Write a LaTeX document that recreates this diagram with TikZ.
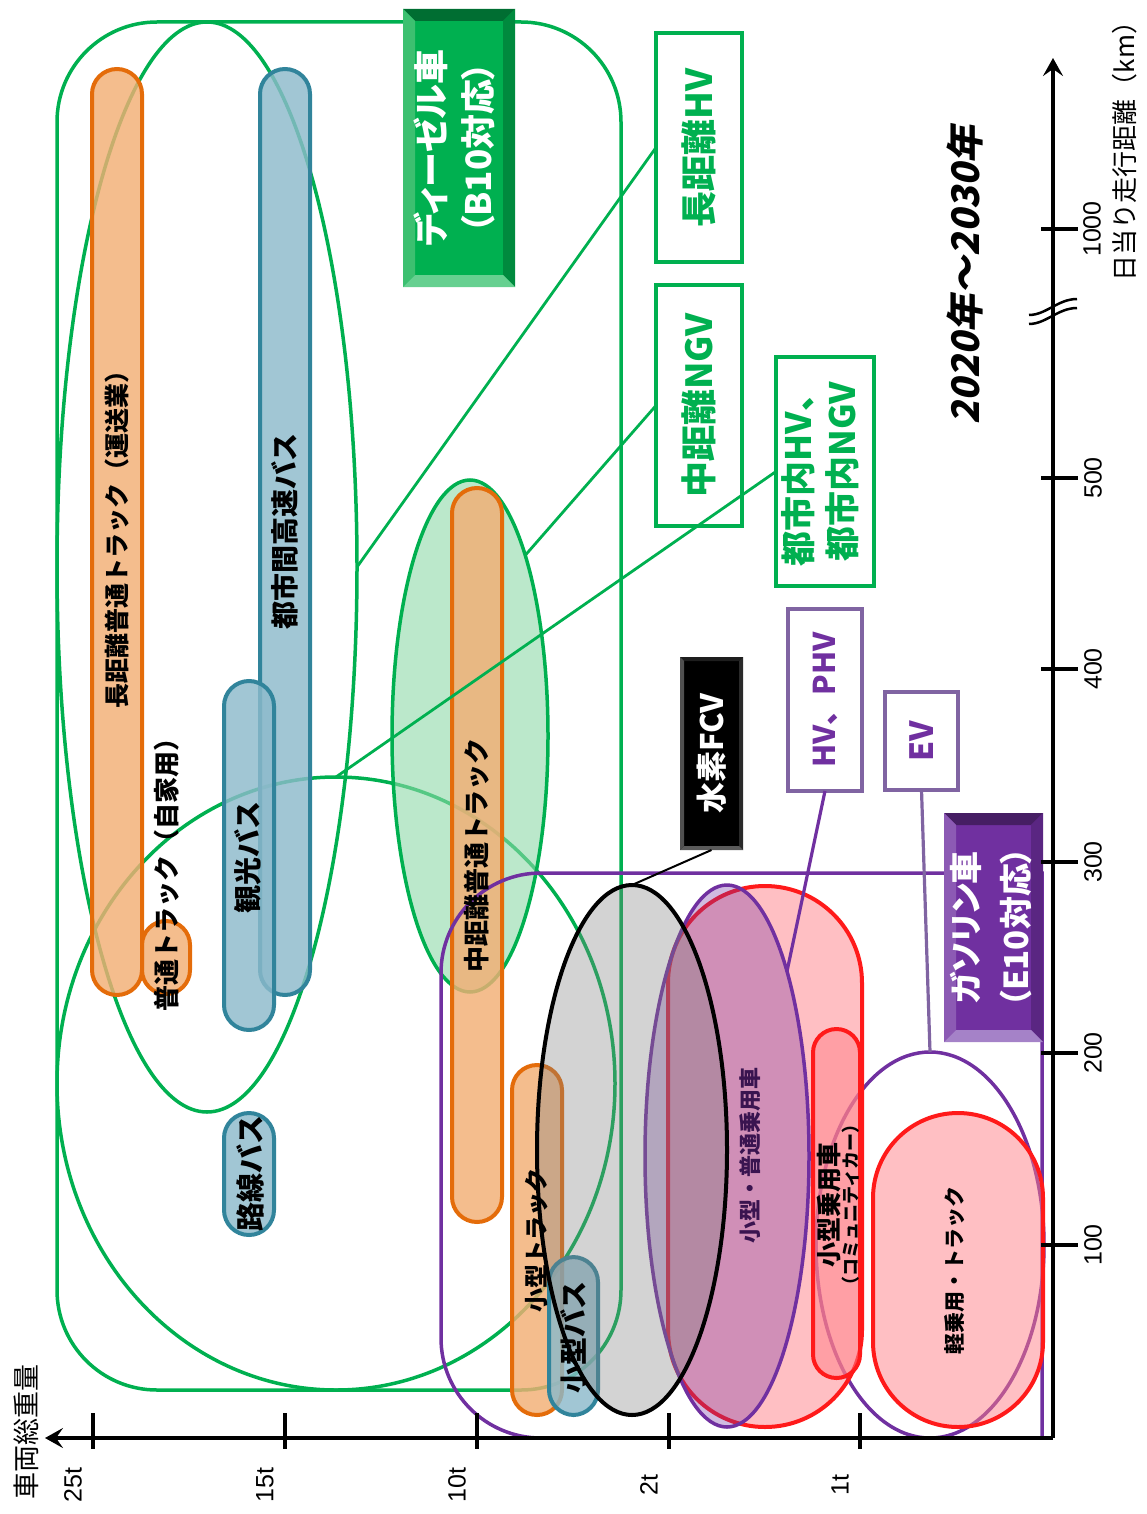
\documentclass[tikz,border=0pt]{standalone}
\usepackage{fontspec}
\setmainfont{Liberation Sans}
\newfontfamily\jp{Noto Sans CJK JP}
\newfontfamily\jpp[RawFeature=+palt]{Noto Sans CJK JP}
\newfontfamily\jpsl[FakeSlant=0.2]{Noto Sans CJK JP}
\usetikzlibrary{shapes.geometric,arrows.meta}

\definecolor{grn}{HTML}{00B050}
\definecolor{grnL}{HTML}{8ED9A8}
\definecolor{orgD}{HTML}{E46C0A}
\definecolor{orgL}{HTML}{F2AE74}
\definecolor{bluD}{HTML}{31849B}
\definecolor{bluL}{HTML}{8CBACB}
\definecolor{redD}{HTML}{FF1A1A}
\definecolor{redL}{HTML}{FF7F88}
\definecolor{pur}{HTML}{7030A0}
\definecolor{purL}{HTML}{8064A2}
\definecolor{carTxt}{HTML}{3A1450}
% bevelled label boxes
\definecolor{dslM}{HTML}{00B050}
\definecolor{dslT}{HTML}{006E32}
\definecolor{dslLf}{HTML}{3CC070}
\definecolor{dslR}{HTML}{008A3E}
\definecolor{dslB}{HTML}{66D090}
\definecolor{gasM}{HTML}{7030A0}
\definecolor{gasT}{HTML}{461E64}
\definecolor{gasLf}{HTML}{8C5AB4}
\definecolor{gasR}{HTML}{5A2682}
\definecolor{gasB}{HTML}{A582C8}
\definecolor{fcvT}{HTML}{1E1E1E}
\definecolor{fcvLf}{HTML}{505050}
\definecolor{fcvR}{HTML}{2A2A2A}
\definecolor{fcvB}{HTML}{5A5A5A}

\newcommand\fsz[2]{\fontsize{#1}{#2}\selectfont}
% node, bevel width, top, left, right, bottom colours
\newcommand\boxbevel[6]{%
  \fill[#3] (#1.north west) -- (#1.north east) -- ([shift={(-#2,#2)}]#1.north east) -- ([shift={(#2,#2)}]#1.north west) -- cycle;
  \fill[#4] (#1.north west) -- ([shift={(#2,#2)}]#1.north west) -- ([shift={(#2,-#2)}]#1.south west) -- (#1.south west) -- cycle;
  \fill[#5] (#1.north east) -- ([shift={(-#2,#2)}]#1.north east) -- ([shift={(-#2,-#2)}]#1.south east) -- (#1.south east) -- cycle;
  \fill[#6] (#1.south west) -- ([shift={(#2,-#2)}]#1.south west) -- ([shift={(-#2,-#2)}]#1.south east) -- (#1.south east) -- cycle;}

\begin{document}
\begin{tikzpicture}[x=1pt,y=-1pt,
  gline/.style={draw=grn, line width=3.5pt},
  capO/.style={draw=orgD, fill=orgL, fill opacity=.82, line width=4pt, rounded corners=25pt},
  capB/.style={draw=bluD, fill=bluL, fill opacity=.82, line width=4pt, rounded corners=25pt},
  capR/.style={draw=redD, fill=redL, fill opacity=.5, line width=4pt},
  ell/.style={ellipse, inner sep=0, outer sep=0},
  lbl/.style={rotate=90, inner sep=0, font=\jp\bfseries},
  gbox/.style={draw=grn, fill=white, line width=3.5pt, inner sep=0, outer sep=0, text=grn},
  pbox/.style={draw=purL, fill=white, line width=3.5pt, inner sep=0, outer sep=0, text=pur},
  bvbox/.style={inner sep=0, outer sep=0},
  gcon/.style={draw=grn, line width=2.8pt},
  axis/.style={line width=3.8pt},
  tickmark/.style={line width=4.5pt},
  num/.style={rotate=90, inner sep=0, font=\fsz{25}{30}},
]
\useasboundingbox (0,0) rectangle (1147,1514);

% ---- diesel domain: frame and two usage ellipses
\draw[gline, rounded corners=100pt] (57,22) rectangle (621,1390);
\node[ell, gline, minimum width=300pt, minimum height=1090pt] (ellLong) at (207,567) {};
\node[ell, gline, minimum width=558pt, minimum height=613pt] (ellLow) at (336,1083.5) {};
\node[ell, draw=grn, fill=grnL, fill opacity=.6, line width=3.5pt, minimum width=156pt, minimum height=512pt] (ellMid) at (470,736) {};

% ---- trucks
\draw[capO] (92,69) rectangle (142,995);
\draw[capO, rounded corners=24pt] (142,921) rectangle (190,994);
\draw[capO] (452,488) rectangle (502,1222);
\draw[capO] (512,1065) rectangle (562,1415);
% ---- buses
\draw[capB] (260,69) rectangle (310,995);
\draw[capB] (224,681) rectangle (274,1030);
\draw[capB] (224,1113) rectangle (274,1235);
\draw[capB] (549,1257) rectangle (598,1415);

% ---- gasoline domain
\draw[draw=pur, line width=3.5pt] (1042,1438) -- (1042,873) -- (541,873)
  arc(-90:-180:100) -- (441,1338) arc(180:90:100) -- cycle;
\node[ell, draw=pur, line width=3.5pt, minimum width=228pt, minimum height=386pt] (ellEV) at (930,1245) {};
\draw[capR, rounded corners=97pt] (668,886) rectangle (862,1427);
\draw[capR, rounded corners=23.5pt] (813,1029) rectangle (860,1378);
\draw[capR, rounded corners=85pt] (873,1113) rectangle (1043,1427);
\node[ell, draw=pur, fill=pur, fill opacity=.33, line width=3.5pt, minimum width=164pt, minimum height=542pt] (ellCar) at (727,1156) {};
\node[ell, draw=black, fill=gray, fill opacity=.35, line width=4pt, minimum width=190pt, minimum height=530pt] (ellFCV) at (632,1150) {};

% ---- labels inside the bars
\node[lbl, font=\jp\bfseries\fsz{25}{30}] (tLongTr) at (117,533) {長距離普通トラック（運送業）};
\node[lbl, font=\jp\bfseries\fsz{28}{32}] (tExpBus) at (285,531) {都市間高速バス};
\node[lbl, font=\jp\bfseries\fsz{26}{30}] (tOwnTr) at (167,868) {普通トラック（自家用）};
\node[lbl, font=\jp\bfseries\fsz{28}{32}] (tTour) at (248,857) {観光バス};
\node[lbl, font=\jp\bfseries\fsz{29}{32}] (tRoute) at (250,1173) {路線バス};
\node[lbl, font=\jp\bfseries\fsz{26}{30}] (tMidTr) at (477,855) {中距離普通トラック};
\node[lbl, font=\jp\bfseries\fsz{24}{28}] (tSmTr) at (537,1240) {小型トラック};
\node[lbl, font=\jp\bfseries\fsz{28}{32}] (tSmBus) at (574,1337) {小型バス};
\node[lbl, font=\jp\bfseries\fsz{22}{26}, text=carTxt] (tCar) at (750,1155) {小型・普通乗用車};
\node[lbl, align=center] (tComm) at (838,1205)
  {{\fsz{25}{29}小型乗用車}\\{\fsz{18}{29}\jp\bfseries（コミュニティカー）}};
\node[lbl, font=\jp\bfseries\fsz{21}{26}] (tKei) at (955,1270) {軽乗用・トラック};

% ---- technology boxes
\node[gbox, minimum width=86pt, minimum height=229pt, font=\jp\bfseries\fsz{36}{40}] (bHV) at (699,147.5)
  {\rotatebox{90}{長距離HV}};
\node[gbox, minimum width=86pt, minimum height=241pt, font=\jp\bfseries\fsz{36}{40}] (bNGV) at (699,405.5)
  {\rotatebox{90}{中距離NGV}};
\node[gbox, minimum width=98pt, minimum height=229pt, font=\jp\bfseries\fsz{35}{44}] (bCity) at (825,471.5)
  {\rotatebox{90}{\begin{tabular}{@{}c@{}}都市内HV、\\都市内NGV\end{tabular}}};
\node[pbox, minimum width=74pt, minimum height=182pt, font=\jp\bfseries\fsz{30}{34}] (bHVP) at (825,700)
  {\rotatebox{90}{HV、PHV}};
\node[pbox, minimum width=73pt, minimum height=98pt, font=\jp\bfseries\fsz{32}{36}] (bEV) at (921.5,741)
  {\rotatebox{90}{EV}};

\node[bvbox, fill=black, minimum width=63pt, minimum height=193pt] (bFCV) at (711.5,753.5) {};
\boxbevel{bFCV}{4}{fcvT}{fcvLf}{fcvR}{fcvB}
\node[text=white, inner sep=0, font=\jp\bfseries\fsz{31}{34}] (tFCV) at (bFCV) {\rotatebox{90}{水素FCV}};

\node[bvbox, fill=dslM, minimum width=112pt, minimum height=278pt] (bDsl) at (459,148) {};
\boxbevel{bDsl}{12}{dslT}{dslLf}{dslR}{dslB}
\node[text=white, inner sep=0, font=\jpp\bfseries\fsz{35}{47}] (tDsl) at (bDsl)
  {\rotatebox{90}{\begin{tabular}{@{}c@{}}ディーゼル車\\（B10対応）\end{tabular}}};

\node[bvbox, fill=gasM, minimum width=99pt, minimum height=229pt] (bGas) at (993.5,927.5) {};
\boxbevel{bGas}{12}{gasT}{gasLf}{gasR}{gasB}
\node[text=white, inner sep=0, font=\jpp\bfseries\fsz{33}{50}] (tGas) at (bGas)
  {\rotatebox{90}{\begin{tabular}{@{}c@{}}ガソリン車\\（E10対応）\end{tabular}}};

% ---- leader lines
\draw[gcon] (bHV.west) -- (ellLong.east);
\draw[gcon] (bNGV.west) -- (ellMid.73);
\draw[gcon] (bCity.west) -- (ellLow.north);
\draw[draw=pur, line width=3.2pt] (bHVP.south) -- (ellCar.72);
\draw[draw=purL, line width=3.2pt] (bEV.south) -- (ellEV.north);
\draw[draw=black, line width=2pt] (bFCV.south) -- (ellFCV.north);

% ---- period
\node[rotate=90, inner sep=0, font=\jpsl\bfseries\fsz{38}{42}] (period) at (965,275) {2020年～2030年};

% ---- axes
\coordinate (O) at (1053,1438);
\coordinate (xEnd) at (45,1438);
\coordinate (yEnd) at (1053,58);
\draw[axis, -{Stealth[length=18pt,width=20pt,inset=7pt]}] (O) -- (xEnd);
\draw[axis, -{Stealth[length=18pt,width=20pt,inset=7pt]}] (O) -- (yEnd);
\foreach \x in {93,285,477,669,860} \draw[tickmark] (\x,1413) -- (\x,1449);
\foreach \y in {1245,1053,862,669,478,229} \draw[tickmark] (1041,\y) -- (1078,\y);
% axis break
\draw[line width=2.5pt] (1029,315) .. controls (1046,315) and (1058,299) .. (1077,299);
\draw[line width=2.5pt] (1029,324) .. controls (1046,324) and (1058,308) .. (1077,308);

\node[num] (l25) at (73,1485) {25t};
\node[num] (l15) at (265,1485) {15t};
\node[num] (l10) at (457,1485) {10t};
\node[num] (l2) at (649,1485) {2t};
\node[num] (l1) at (840,1485) {1t};
\node[num] (k100) at (1093,1245) {100};
\node[num] (k200) at (1093,1053) {200};
\node[num] (k300) at (1093,862) {300};
\node[num] (k400) at (1093,669) {400};
\node[num] (k500) at (1093,478) {500};
\node[num] (k1000) at (1092,229) {1000};

\node[rotate=90, inner sep=0, font=\jp\fsz{27}{30}] (yTitle) at (26,1432) {車両総重量};
\node[rotate=90, inner sep=0, font=\jp\fsz{26}{30}] (xTitle) at (1125,145) {日当り走行距離（km）};
\end{tikzpicture}
\end{document}
